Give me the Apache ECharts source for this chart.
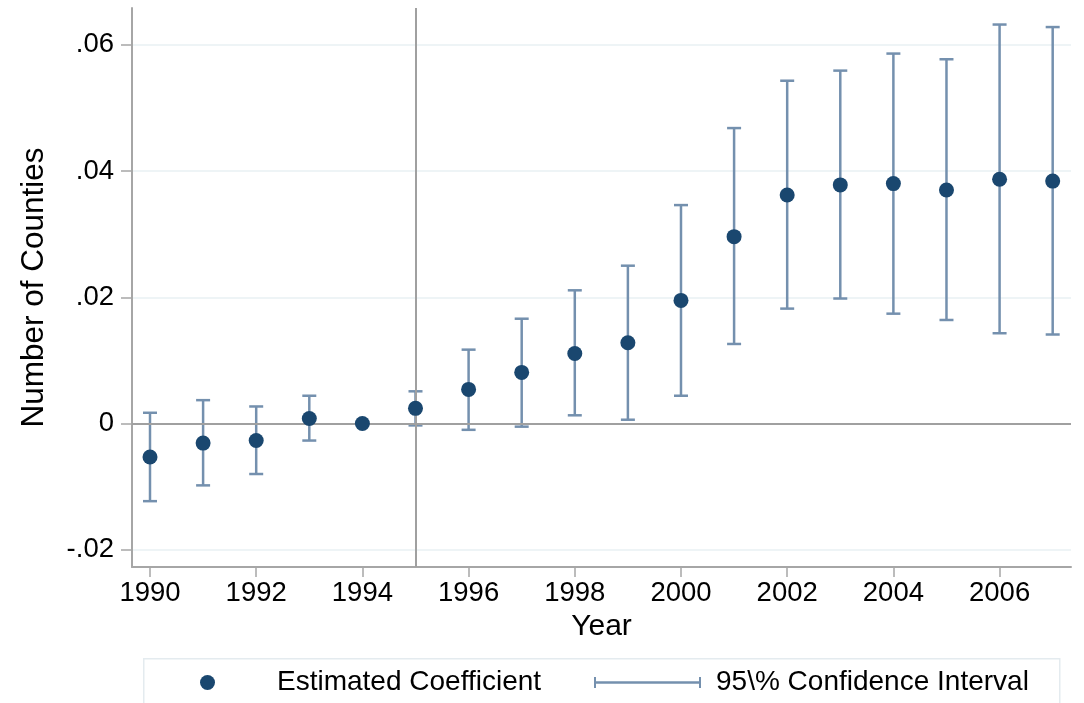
<!DOCTYPE html>
<html>
<head>
<meta charset="utf-8">
<script src="https://cdn.jsdelivr.net/npm/echarts@6/dist/echarts.min.js"></script>
<style>
html,body{margin:0;padding:0;background:#fff;}
#chart{width:1084px;height:703px;}
</style>
</head>
<body>
<div id="chart"></div>
<script>
// ---- data ----
const years = [1990,1991,1992,1993,1994,1995,1996,1997,1998,1999,2000,2001,2002,2003,2004,2005,2006,2007];
const coef  = [-0.0053,-0.0031,-0.0027,0.0008,0.0000,0.0024,0.0054,0.0081,0.0111,0.0128,0.0195,0.0296,0.0362,0.0378,0.0380,0.0370,0.0387,0.0384];
const ciLow = [-0.0123,-0.0098,-0.0080,-0.0027,0.0000,-0.0003,-0.0010,-0.0005,0.0013,0.0006,0.0044,0.0126,0.0182,0.0198,0.0174,0.0164,0.0143,0.0141];
const ciHigh= [0.0017,0.0037,0.0027,0.0044,0.0000,0.0051,0.0117,0.0166,0.0211,0.0250,0.0346,0.0468,0.0543,0.0559,0.0586,0.0577,0.0632,0.0628];
const xTicks = [1990,1992,1994,1996,1998,2000,2002,2004,2006];
const yTicks = [-0.02,0,0.02,0.04,0.06];
const refYear = 1995;
const refValue = 0;
const xTitle = 'Year';
const yTitle = 'Number of Counties';
const legendCoef = 'Estimated Coefficient';
const legendCI = '95\\% Confidence Interval';

// ---- styling ----
const FONT = "'Liberation Sans', Arial, Helvetica, sans-serif";
const navy = '#1a476f';
const ciColor = '#7490ae';
const axisGray = '#a6a6a6';
const gridColor = '#e8f0f3';

const chart = echarts.init(document.getElementById('chart'), null, {renderer:'canvas'});

const scatterData = years.map((y,i)=>[y, coef[i]]);
const ciData = years.map((y,i)=>[y, ciLow[i], ciHigh[i]]);

function renderCI(params, api){
  const x = api.value(0), lo = api.value(1), hi = api.value(2);
  if (lo === hi) return null;
  const pLo = api.coord([x, lo]);
  const pHi = api.coord([x, hi]);
  const hw = 7;
  const st = {stroke: ciColor, lineWidth: 2.5};
  return {type:'group', children:[
    {type:'line', shape:{x1:pLo[0], y1:pLo[1], x2:pHi[0], y2:pHi[1]}, style:st},
    {type:'line', shape:{x1:pLo[0]-hw, y1:pLo[1], x2:pLo[0]+hw, y2:pLo[1]}, style:st},
    {type:'line', shape:{x1:pHi[0]-hw, y1:pHi[1], x2:pHi[0]+hw, y2:pHi[1]}, style:st}
  ]};
}

function fmtY(v){
  if (Math.abs(v) < 1e-12) return '0';
  const s = Math.abs(v).toFixed(2).replace(/^0/, '');
  return (v < 0 ? '-' : '') + s;
}

const option = {
  backgroundColor:'#fff',
  animation:false,
  grid:{left:132, right:13, top:8, bottom:136, containLabel:false},
  xAxis:{
    type:'value', min:1989.661, max:2007.345,
    name:xTitle, nameLocation:'middle', nameGap:43,
    nameTextStyle:{fontFamily:FONT, fontSize:30, color:'#000'},
    axisLine:{show:true, onZero:false, lineStyle:{color:axisGray, width:2}},
    axisTick:{show:true, length:10, customValues:xTicks, lineStyle:{color:axisGray, width:1.5}},
    axisLabel:{customValues:xTicks, margin:12, fontFamily:FONT, fontSize:27.5, color:'#000',
      formatter:v=>String(Math.round(v))},
    splitLine:{show:false}
  },
  yAxis:{
    type:'value', min:-0.02273, max:0.06582,
    name:yTitle, nameLocation:'middle', nameGap:82, nameRotate:90,
    nameTextStyle:{fontFamily:FONT, fontSize:31.5, color:'#000'},
    axisLine:{show:true, onZero:false, lineStyle:{color:axisGray, width:2}},
    axisTick:{show:true, length:11, customValues:yTicks, lineStyle:{color:axisGray, width:1.5}},
    axisLabel:{customValues:yTicks, margin:18, fontFamily:FONT, fontSize:27.5, color:'#000', formatter:fmtY},
    splitLine:{show:true, lineStyle:{color:gridColor, width:1.5}}
  },
  series:[
    {
      type:'custom', name:legendCI, renderItem:renderCI, data:ciData,
      encode:{x:0, y:[1,2]}, z:3, silent:true,
      markLine:{
        silent:true, symbol:'none', label:{show:false}, animation:false,
        lineStyle:{color:'#a0a0a0', width:2, type:'solid'},
        emphasis:{disabled:true},
        data:[{yAxis:refValue},{xAxis:refYear}]
      }
    },
    {
      type:'scatter', name:legendCoef, data:scatterData, symbol:'circle', symbolSize:15,
      itemStyle:{color:navy, opacity:1}, z:5, silent:true
    }
  ],
  graphic:[
    {type:'rect', left:143, top:658, shape:{width:916, height:60}, style:{fill:'#fff', stroke:'#e4ebef', lineWidth:1.5}, z:10},
    {type:'circle', shape:{cx:207.5, cy:682.5, r:7.5}, style:{fill:navy}, z:11},
    {type:'text', left:277, top:668, style:{text:legendCoef, font:"28px 'Liberation Sans', Arial, sans-serif", fill:'#000'}, z:11},
    {type:'line', shape:{x1:594, y1:682.5, x2:701, y2:682.5}, style:{stroke:ciColor, lineWidth:2.5}, z:11},
    {type:'line', shape:{x1:595, y1:677, x2:595, y2:688}, style:{stroke:ciColor, lineWidth:2}, z:11},
    {type:'line', shape:{x1:700, y1:677, x2:700, y2:688}, style:{stroke:ciColor, lineWidth:2}, z:11},
    {type:'text', left:716, top:668, style:{text:legendCI, font:"28px 'Liberation Sans', Arial, sans-serif", fill:'#000'}, z:11}
  ]
};
chart.setOption(option);
</script>
</body>
</html>
